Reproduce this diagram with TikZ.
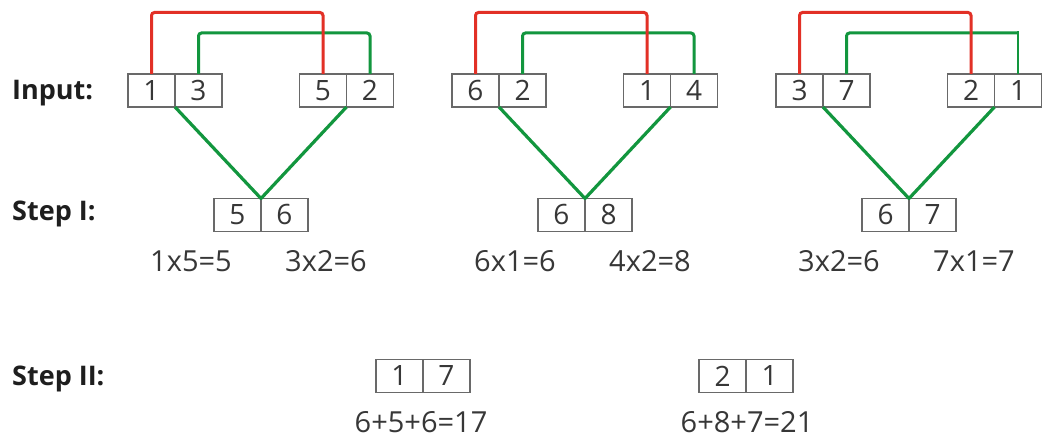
\documentclass[tikz,border=0pt]{standalone}
\usepackage{fontspec}
\setmainfont{Open Sans}
\definecolor{cred}{RGB}{226,48,38}
\definecolor{cgreen}{RGB}{18,150,62}
\definecolor{boxgray}{RGB}{105,105,105}
\definecolor{txt}{RGB}{55,55,55}
\definecolor{lbltxt}{RGB}{30,30,30}
\begin{document}
\begin{tikzpicture}[x=1pt,y=-1pt,
  cell/.style={draw=boxgray, line width=1.5pt, minimum width=47pt, minimum height=33pt,
    inner sep=0pt, outer sep=0pt, text=txt, font=\fontsize{28}{30}\selectfont},
  calc/.style={anchor=base, text=txt, inner sep=0pt, font=\fontsize{29}{31}\selectfont},
  lbl/.style={anchor=base west, inner sep=0pt, text=lbltxt, font=\fontsize{27}{29}\selectfont\bfseries},
  redl/.style={draw=cred, line width=3pt, rounded corners=3pt},
  greenl/.style={draw=cgreen, line width=3pt, rounded corners=3pt},
  vline/.style={draw=cgreen, line width=3.2pt, line join=round}]
\path[fill=white] (0,0) rectangle (1045,438);
\useasboundingbox (0,0) rectangle (1045,438);

\node[lbl] (linput) at (12,100) {Input:};
\node[lbl] (lstepI) at (12,221) {Step I:};
\node[lbl] (lstepII) at (12,386) {Step II:};

\foreach \g/\a/\b/\c/\d/\e/\f/\p/\q in {0/1/3/5/2/5/6/1x5=5/3x2=6, 1/6/2/1/4/6/8/6x1=6/4x2=8, 2/3/7/2/1/6/7/3x2=6/7x1=7}{
  \pgfmathsetmacro\ox{324*\g}
  \begin{scope}[xshift=\ox pt]
    \node[cell] (a\g) at (151.5,90.5) {\a};
    \node[cell] (b\g) at (198.5,90.5) {\b};
    \node[cell] (c\g) at (323,90.5) {\c};
    \node[cell] (d\g) at (370,90.5) {\d};
    \node[cell] (sa\g) at (237.5,215) {\e};
    \node[cell] (sb\g) at (284.5,215) {\f};
    \node[calc] (p\g) at (191,272) {\p};
    \node[calc] (q\g) at (326,272) {\q};
    \ifnum\g=2
      \draw[greenl] (b\g.north) -- (b\g.north |- 0,33) -- (d\g.north |- 0,33);
      \draw[draw=cgreen, line width=1.5pt] (d\g.north |- 0,31.5) -- (d\g.north);
    \else
      \draw[greenl] (b\g.north) -- (b\g.north |- 0,33) -- (d\g.north |- 0,33) -- (d\g.north);
    \fi
    \draw[redl] (a\g.north) -- (a\g.north |- 0,12.5) -- (c\g.north |- 0,12.5) -- (c\g.north);
    \draw[vline] (a\g.south east) -- (sa\g.north east) -- (c\g.south east);
  \end{scope}
}

\node[cell] (ta) at (399.5,376) {1};
\node[cell] (tb) at (446.5,376) {7};
\node[calc] (tl) at (421,433) {6+5+6=17};
\node[cell] (ua) at (722.5,376) {2};
\node[cell] (ub) at (769.5,376) {1};
\node[calc] (ul) at (747,433) {6+8+7=21};
\end{tikzpicture}
\end{document}
